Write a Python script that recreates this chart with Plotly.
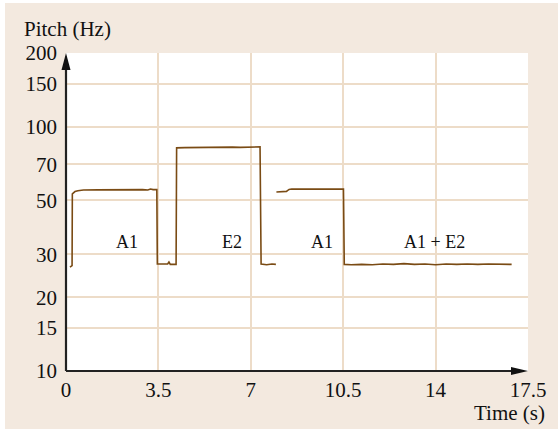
import math
import plotly.graph_objects as go

# Pitch track (time in s, pitch in Hz); None separates the two recordings
time_s = [0.15, 0.20, 0.23, 0.24, 0.34, 0.45, 0.66, 1.2, 1.8, 2.4, 2.9, 3.1, 3.2, 3.3, 3.44,
          3.46, 3.6, 3.85, 3.9, 3.95, 4.17, 4.19, 4.5, 5.0, 5.2, 5.5, 6.0, 6.3, 6.6, 7.0, 7.35,
          7.39, 7.6, 7.8, 7.95,
          None,
          7.97, 8.2, 8.35, 8.45, 8.55, 9.0, 9.5, 10.0, 10.51,
          10.54, 10.8, 11.2, 11.6, 12.0, 12.4, 12.8, 13.2, 13.6, 14.0, 14.4, 14.8, 15.2, 15.6,
          16.0, 16.4, 16.88]
pitch_hz = [26.6, 26.8, 27.0, 53.1, 54.2, 54.6, 55.0, 55.1, 55.2, 55.2, 55.2, 55.0, 55.5, 55.2, 55.2,
            27.4, 27.4, 27.4, 27.9, 27.3, 27.3, 81.8, 82.0, 82.2, 81.9, 82.3, 82.1, 82.4, 82.2, 82.5, 82.6,
            27.4, 27.2, 27.4, 27.3,
            None,
            54.0, 54.0, 54.3, 55.3, 55.5, 55.5, 55.5, 55.5, 55.5,
            27.3, 27.2, 27.3, 27.2, 27.4, 27.3, 27.5, 27.3, 27.4, 27.2, 27.4, 27.3, 27.4, 27.3,
            27.4, 27.3, 27.3]

# Axis ticks
x_ticks = [0, 3.5, 7, 10.5, 14, 17.5]
x_tick_text = ["0", "3.5", "7", "10.5", "14", "17.5"]
y_ticks = [10, 15, 20, 30, 50, 70, 100, 150, 200]
y_tick_text = ["10", "15", "20", "30", "50", "70", "100", "150", "200"]

# Segment labels
seg_labels = ["A1", "E2", "A1", "A1 + E2"]
seg_x = [2.31, 6.30, 9.69, 13.96]
seg_y = 33.8

W, H = 558, 429
L, R, T, B = 66, 30, 53, 58
PW, PH = W - L - R, H - T - B

BEIGE = "#f3e9df"
GRID = "#eddcc8"
LINE = "#7a4b14"
FONT = "Liberation Serif"
TXT = "#111111"


def px(x):
    return (x - L) / PW


def py(y):
    return (H - B - y) / PH


fig = go.Figure()
fig.add_trace(go.Scatter(x=time_s, y=pitch_hz, mode="lines",
                         line=dict(color=LINE, width=1.6), connectgaps=False,
                         showlegend=False, hoverinfo="skip"))

shapes = [
    # panel background
    dict(type="rect", xref="paper", yref="paper", x0=px(5), x1=px(W + 5), y0=py(H + 5), y1=py(3),
         fillcolor=BEIGE, line=dict(width=0), layer="below"),
    dict(type="rect", xref="paper", yref="paper", x0=0, x1=1, y0=0, y1=1,
         fillcolor="white", line=dict(width=0), layer="below"),
    # y axis with arrow
    dict(type="line", xref="paper", yref="paper", x0=0, x1=0, y0=0, y1=1 - 14 / PH,
         line=dict(color="#222222", width=2.2)),
    dict(type="path", xref="paper", yref="paper",
         path=f"M {-4.5 / PW} {1 - 17 / PH} L {4.5 / PW} {1 - 17 / PH} L 0 1 Z",
         fillcolor="#111111", line=dict(width=0)),
    # x axis with arrow
    dict(type="line", xref="paper", yref="paper", x0=0, x1=1 - 14 / PW, y0=0, y1=0,
         line=dict(color="#222222", width=2.2)),
    dict(type="path", xref="paper", yref="paper",
         path=f"M {1 - 17 / PW} {4 / PH} L {1 - 17 / PW} {-4 / PH} L 1 0 Z",
         fillcolor="#111111", line=dict(width=0)),
]

annotations = [
    dict(text="Pitch (Hz)", xref="paper", yref="paper", x=px(22), y=py(29),
         xanchor="left", yanchor="middle", showarrow=False,
         font=dict(family=FONT, size=21, color=TXT)),
    dict(text="Time (s)", xref="paper", yref="paper", x=px(547), y=py(413),
         xanchor="right", yanchor="middle", showarrow=False,
         font=dict(family=FONT, size=21, color=TXT)),
]
for lab, xv in zip(seg_labels, seg_x):
    annotations.append(dict(text=lab, x=xv, y=math.log10(seg_y), xref="x", yref="y",
                            showarrow=False, xanchor="center", yanchor="middle",
                            font=dict(family=FONT, size=18, color=TXT)))

fig.update_layout(
    width=W, height=H,
    margin=dict(l=L, r=R, t=T, b=B),
    paper_bgcolor="white", plot_bgcolor="white",
    shapes=shapes, annotations=annotations,
    xaxis=dict(range=[0, 17.5], tickvals=x_ticks, ticktext=x_tick_text,
               showgrid=True, gridcolor=GRID, gridwidth=1.6, zeroline=False,
               showline=False, ticks="", ticklabelstandoff=4,
               tickfont=dict(family=FONT, size=21, color=TXT)),
    yaxis=dict(type="log", range=[1, math.log10(200)], tickvals=y_ticks, ticktext=y_tick_text,
               showgrid=True, gridcolor=GRID, gridwidth=1.6, zeroline=False,
               showline=False, ticks="", ticklabelstandoff=8,
               tickfont=dict(family=FONT, size=21, color=TXT)),
)

fig.write_html("out.html")
